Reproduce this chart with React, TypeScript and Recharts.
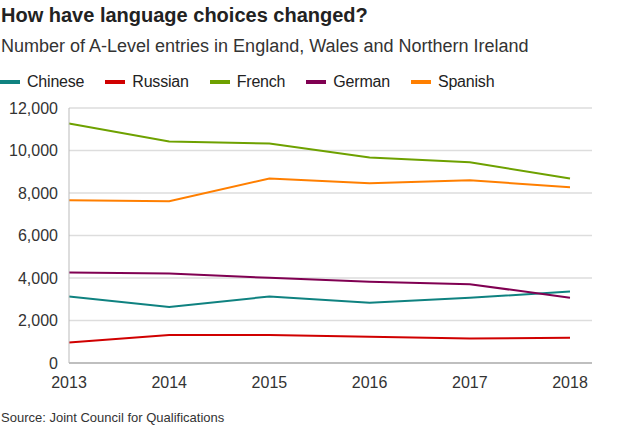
import { LineChart, Line, XAxis, YAxis, CartesianGrid } from 'recharts';

const years = ['2013', '2014', '2015', '2016', '2017', '2018'];
const chinese = [3130, 2640, 3130, 2840, 3070, 3360];
const russian = [960, 1320, 1320, 1240, 1150, 1190];
const french = [11270, 10420, 10330, 9670, 9450, 8680];
const german = [4260, 4210, 4010, 3820, 3710, 3070];
const spanish = [7660, 7610, 8680, 8460, 8600, 8270];
const yTicks = [0, 2000, 4000, 6000, 8000, 10000, 12000];

const series = [
    { key: 'chinese', name: 'Chinese', color: '#0f8280' },
    { key: 'russian', name: 'Russian', color: '#d00000' },
    { key: 'french', name: 'French', color: '#6ea100' },
    { key: 'german', name: 'German', color: '#800052' },
    { key: 'spanish', name: 'Spanish', color: '#ff7f00' },
];

const data = years.map((year, i) => ({
    year,
    chinese: chinese[i],
    russian: russian[i],
    french: french[i],
    german: german[i],
    spanish: spanish[i],
}));

const font = '"Liberation Sans", Arial, Helvetica, sans-serif';

export default function App() {
    return (
        <div style={{ position: 'absolute', left: 0, top: 0, width: 624, height: 429, background: '#fff', fontFamily: font, color: '#222' }}>
            <div style={{ position: 'absolute', left: 1, top: 4, fontSize: 20, fontWeight: 'bold', color: '#222', whiteSpace: 'nowrap' }}>
                How have language choices changed?
            </div>
            <div style={{ position: 'absolute', left: 1, top: 36, fontSize: 18, color: '#333', whiteSpace: 'nowrap' }}>
                Number of A-Level entries in England, Wales and Northern Ireland
            </div>
            {/* legend kept outside the chart so it doesn't push the plot down */}
            <div style={{ position: 'absolute', left: 0, top: 73, display: 'flex', gap: 21, fontSize: 16, color: '#222', letterSpacing: -0.2 }}>
                {series.map((s) => (
                    <div key={s.key} style={{ display: 'flex', alignItems: 'center', gap: 7 }}>
                        <span style={{ display: 'inline-block', width: 20, height: 4, background: s.color }} />
                        {s.name}
                    </div>
                ))}
            </div>
            <LineChart
                width={624}
                height={429}
                data={data}
                margin={{ top: 108, right: 32, left: 0, bottom: 36 }}
                style={{ position: 'absolute', left: 0, top: 0 }}
            >
                <CartesianGrid vertical={false} stroke="#dddddd" strokeWidth={1.5} />
                <XAxis
                    dataKey="year"
                    padding={{ left: 0, right: 22 }}
                    stroke="#999"
                    tickLine={false}
                    tickMargin={8}
                    height={30}
                    tick={{ fill: '#333', fontSize: 16, fontFamily: font }}
                />
                <YAxis
                    domain={[0, 12000]}
                    ticks={yTicks}
                    width={69}
                    stroke="#bbb"
                    tickLine={false}
                    tickMargin={5}
                    tickFormatter={(v: number) => v.toLocaleString('en-US')}
                    tick={{ fill: '#333', fontSize: 16, fontFamily: font }}
                />
                {series.map((s) => (
                    <Line
                        key={s.key}
                        type="linear"
                        dataKey={s.key}
                        name={s.name}
                        stroke={s.color}
                        strokeWidth={2}
                        dot={false}
                        activeDot={false}
                        isAnimationActive={false}
                    />
                ))}
            </LineChart>
            <div style={{ position: 'absolute', left: 1, top: 410, fontSize: 13, color: '#333', whiteSpace: 'nowrap' }}>
                Source: Joint Council for Qualifications
            </div>
        </div>
    );
}
